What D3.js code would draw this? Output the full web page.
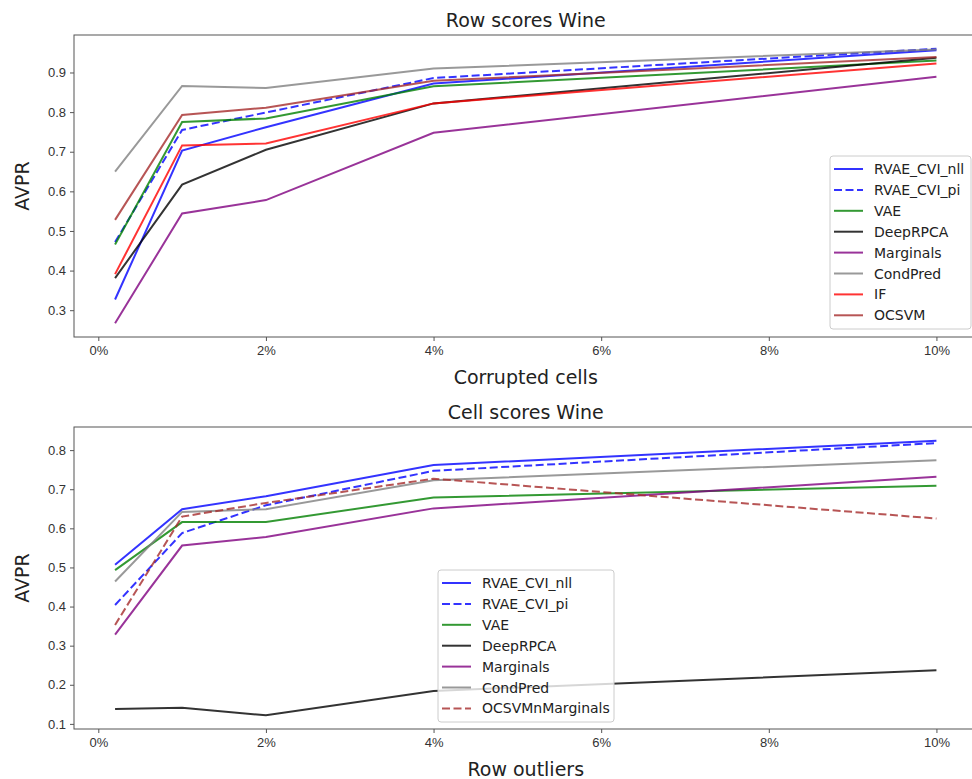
<!DOCTYPE html>
<html>
<head>
  <meta charset="utf-8">
  <title>Row and cell scores Wine</title>
  <script src="https://d3js.org/d3.v7.min.js"></script>
  <style>
    body { margin: 0; background: #fff; }
    svg { font-family: "DejaVu Sans", sans-serif; }
    .tick text { fill: #333; font-size: 13px; }
    .tick line, .domain { stroke: #555; }
  </style>
</head>
<body>
<svg id="chart" width="972" height="779"></svg>
<script>
// x positions (percent)
const xValues = [0.2, 1, 2, 4, 10];
const xTicks = [0, 2, 4, 6, 8, 10];

// top panel: Row scores Wine
const rowNames = ["RVAE_CVI_nll", "RVAE_CVI_pi", "VAE", "DeepRPCA", "Marginals", "CondPred", "IF", "OCSVM"];
const rowNll = [0.327, 0.703, 0.762, 0.872, 0.956];
const rowPi = [0.472, 0.755, 0.799, 0.886, 0.960];
const rowVae = [0.466, 0.775, 0.784, 0.865, 0.930];
const rowRpca = [0.381, 0.617, 0.705, 0.822, 0.937];
const rowMarg = [0.267, 0.544, 0.578, 0.748, 0.889];
const rowCond = [0.650, 0.866, 0.861, 0.910, 0.958];
const rowIf = [0.391, 0.716, 0.721, 0.822, 0.923];
const rowOcsvm = [0.528, 0.793, 0.811, 0.879, 0.939];
const rowTicks = [0.3, 0.4, 0.5, 0.6, 0.7, 0.8, 0.9];

// bottom panel: Cell scores Wine
const cellNames = ["RVAE_CVI_nll", "RVAE_CVI_pi", "VAE", "DeepRPCA", "Marginals", "CondPred", "OCSVMnMarginals"];
const cellNll = [0.507, 0.649, 0.682, 0.762, 0.824];
const cellPi = [0.404, 0.588, 0.659, 0.747, 0.818];
const cellVae = [0.493, 0.616, 0.616, 0.679, 0.709];
const cellRpca = [0.138, 0.141, 0.122, 0.184, 0.237];
const cellMarg = [0.328, 0.556, 0.578, 0.651, 0.732];
const cellCond = [0.464, 0.642, 0.649, 0.723, 0.774];
const cellOcsvmMarg = [0.353, 0.630, 0.665, 0.727, 0.625];
const cellTicks = [0.1, 0.2, 0.3, 0.4, 0.5, 0.6, 0.7, 0.8];

const rowColors = ["blue", "blue", "green", "black", "purple", "gray", "red", "brown"];
const rowDashed = [false, true, false, false, false, false, false, false];
const cellColors = ["blue", "blue", "green", "black", "purple", "gray", "brown"];
const cellDashed = [false, true, false, false, false, false, true];

const svg = d3.select("#chart");

function drawPanel(opts) {
  const left = 74, right = 977.5;
  const top = opts.top, bottom = opts.bottom;

  // matplotlib style 5% margins
  const xr = d3.extent(xValues);
  const xpad = (xr[1] - xr[0]) * 0.05;
  const x = d3.scaleLinear().domain([xr[0] - xpad, xr[1] + xpad]).range([left, right]);

  const all = opts.series.flat();
  const yr = d3.extent(all);
  const ypad = (yr[1] - yr[0]) * 0.05;
  const y = d3.scaleLinear().domain([yr[0] - ypad, yr[1] + ypad]).range([bottom, top]);

  const g = svg.append("g");

  // lines
  const line = d3.line().x((d, i) => x(xValues[i])).y(d => y(d));
  opts.series.forEach((s, i) => {
    g.append("path")
      .datum(s)
      .attr("d", line)
      .attr("fill", "none")
      .attr("stroke", opts.colors[i])
      .attr("stroke-opacity", 0.8)
      .attr("stroke-width", 2)
      .attr("stroke-dasharray", opts.dashed[i] ? "8,3.5" : null);
  });

  // frame
  g.append("rect")
    .attr("x", left).attr("y", top)
    .attr("width", right - left).attr("height", bottom - top)
    .attr("fill", "none").attr("stroke", "#555").attr("stroke-width", 1);

  // axes
  const xAxis = g.append("g")
    .attr("transform", `translate(0,${bottom})`)
    .call(d3.axisBottom(x).tickValues(xTicks).tickFormat(d => d + "%").tickSize(4).tickPadding(5));
  xAxis.select(".domain").remove();

  const yAxis = g.append("g")
    .attr("transform", `translate(${left},0)`)
    .call(d3.axisLeft(y).tickValues(opts.yTicks).tickFormat(d3.format(".1f")).tickSize(4).tickPadding(4));
  yAxis.select(".domain").remove();

  // title and labels
  g.append("text")
    .attr("x", (left + right) / 2).attr("y", top - 8)
    .attr("text-anchor", "middle")
    .attr("font-size", 19).attr("fill", "#222")
    .text(opts.title);

  g.append("text")
    .attr("x", (left + right) / 2).attr("y", bottom + 47)
    .attr("text-anchor", "middle")
    .attr("font-size", 19).attr("fill", "#222")
    .text(opts.xLabel);

  g.append("text")
    .attr("transform", `translate(29,${(top + bottom) / 2}) rotate(-90)`)
    .attr("text-anchor", "middle")
    .attr("font-size", 19).attr("fill", "#222")
    .text("AVPR");

  // legend
  const L = opts.legend;
  const lg = g.append("g").attr("transform", `translate(${L.x},${L.y})`);
  lg.append("rect")
    .attr("width", L.w).attr("height", L.h)
    .attr("rx", 3)
    .attr("fill", "white").attr("fill-opacity", 0.8)
    .attr("stroke", "#ccc");
  opts.names.forEach((n, i) => {
    const cy = 13 + i * L.step;
    lg.append("line")
      .attr("x1", 4).attr("x2", 33).attr("y1", cy).attr("y2", cy)
      .attr("stroke", opts.colors[i])
      .attr("stroke-opacity", 0.8)
      .attr("stroke-width", 2)
      .attr("stroke-dasharray", opts.dashed[i] ? "8,3.5" : null);
    lg.append("text")
      .attr("x", 44).attr("y", cy + 5)
      .attr("font-size", 14).attr("fill", "#222")
      .text(n);
  });
}

drawPanel({
  top: 35, bottom: 337,
  title: "Row scores Wine",
  xLabel: "Corrupted cells",
  names: rowNames,
  series: [rowNll, rowPi, rowVae, rowRpca, rowMarg, rowCond, rowIf, rowOcsvm],
  colors: rowColors,
  dashed: rowDashed,
  yTicks: rowTicks,
  legend: {x: 830, y: 156, w: 141, h: 173, step: 20.9}
});

drawPanel({
  top: 427, bottom: 729,
  title: "Cell scores Wine",
  xLabel: "Row outliers",
  names: cellNames,
  series: [cellNll, cellPi, cellVae, cellRpca, cellMarg, cellCond, cellOcsvmMarg],
  colors: cellColors,
  dashed: cellDashed,
  yTicks: cellTicks,
  legend: {x: 438, y: 570, w: 176, h: 152, step: 20.9}
});
</script>
</body>
</html>
